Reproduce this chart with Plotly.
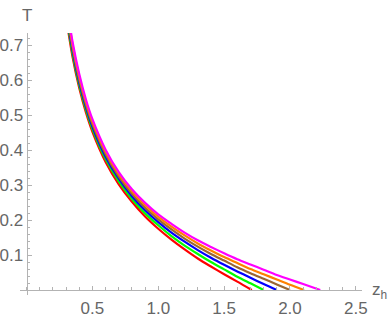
import plotly.graph_objects as go

# z_h sample points and T values (one list per curve)
z_red = [0.30, 0.35, 0.40, 0.45, 0.50, 0.60, 0.70, 0.80, 0.90, 1.00, 1.10, 1.20, 1.30, 1.40, 1.50, 1.60, 1.71]
T_red = [0.780, 0.664, 0.577, 0.508, 0.452, 0.366, 0.302, 0.252, 0.210, 0.175, 0.144, 0.116, 0.090, 0.067, 0.045, 0.024, 0.0]

z_green = [0.30, 0.35, 0.40, 0.45, 0.50, 0.60, 0.70, 0.80, 0.90, 1.00, 1.10, 1.20, 1.30, 1.40, 1.50, 1.60, 1.70, 1.80]
T_green = [0.790, 0.673, 0.585, 0.516, 0.460, 0.374, 0.310, 0.260, 0.219, 0.185, 0.154, 0.127, 0.103, 0.080, 0.059, 0.038, 0.019, 0.0]

z_blue = [0.30, 0.35, 0.40, 0.45, 0.50, 0.60, 0.70, 0.80, 0.90, 1.00, 1.10, 1.20, 1.30, 1.40, 1.50, 1.60, 1.70, 1.80, 1.90]
T_blue = [0.799, 0.682, 0.593, 0.524, 0.467, 0.381, 0.318, 0.268, 0.228, 0.194, 0.164, 0.138, 0.114, 0.092, 0.072, 0.053, 0.035, 0.017, 0.0]

z_brown = [0.30, 0.35, 0.40, 0.45, 0.50, 0.60, 0.70, 0.80, 0.90, 1.00, 1.10, 1.20, 1.30, 1.40, 1.50, 1.60, 1.70, 1.80, 1.90, 2.00]
T_brown = [0.809, 0.690, 0.601, 0.531, 0.474, 0.388, 0.324, 0.275, 0.235, 0.202, 0.173, 0.147, 0.124, 0.103, 0.084, 0.065, 0.048, 0.032, 0.016, 0.0]

z_orange = [0.30, 0.35, 0.40, 0.45, 0.50, 0.60, 0.70, 0.80, 0.90, 1.00, 1.10, 1.20, 1.30, 1.40, 1.50, 1.60, 1.70, 1.80, 1.90, 2.00, 2.107]
T_orange = [0.818, 0.699, 0.609, 0.538, 0.481, 0.395, 0.331, 0.282, 0.242, 0.209, 0.181, 0.156, 0.133, 0.113, 0.094, 0.077, 0.060, 0.045, 0.030, 0.015, 0.0]

z_magenta = [0.30, 0.35, 0.40, 0.45, 0.50, 0.60, 0.70, 0.80, 0.90, 1.00, 1.10, 1.20, 1.30, 1.40, 1.50, 1.60, 1.70, 1.80, 1.90, 2.00, 2.10, 2.23]
T_magenta = [0.828, 0.707, 0.617, 0.545, 0.488, 0.401, 0.337, 0.288, 0.249, 0.216, 0.189, 0.164, 0.142, 0.123, 0.105, 0.088, 0.073, 0.058, 0.043, 0.030, 0.017, 0.0]

x_tickvals = [0.5, 1.0, 1.5, 2.0, 2.5]
x_ticktext = ["0.5", "1.0", "1.5", "2.0", "2.5"]
y_tickvals = [0.1, 0.2, 0.3, 0.4, 0.5, 0.6, 0.7]
y_ticktext = ["0.1", "0.2", "0.3", "0.4", "0.5", "0.6", "0.7"]

series = [
    (z_red, T_red, "#FF0000"),
    (z_green, T_green, "#00FF00"),
    (z_blue, T_blue, "#0000FF"),
    (z_brown, T_brown, "#996633"),
    (z_orange, T_orange, "#FF8000"),
    (z_magenta, T_magenta, "#FF00FF"),
]

fig = go.Figure()
for zs, ts, col in series:
    fig.add_trace(go.Scatter(x=zs, y=ts, mode="lines",
                             line=dict(color=col, width=2.2, shape="spline", smoothing=0.8),
                             showlegend=False, hoverinfo="skip"))

xmin, xmax = -0.050, 2.547
ymin, ymax = -0.0143, 0.7343
axis_col = "#b3b3b3"
lab_col = "#666666"
font = dict(family="Liberation Sans, Arial, sans-serif", size=17, color=lab_col)

fig.update_layout(
    width=388, height=319,
    margin=dict(l=20, r=26, t=33, b=24, autoexpand=False),
    paper_bgcolor="white", plot_bgcolor="white",
    xaxis=dict(range=[xmin, xmax], showgrid=False, zeroline=False, automargin=False,
               showline=True, linecolor=axis_col, linewidth=1,
               anchor="free", position=(0 - ymin) / (ymax - ymin),
               tickmode="array", tickvals=x_tickvals, ticktext=x_ticktext,
               ticks="inside", ticklen=4, tickcolor=axis_col, tickwidth=1,
               tickfont=font, ticklabelstandoff=3,
               minor=dict(dtick=0.1, tick0=0, ticks="inside", ticklen=2.5,
                          tickcolor=axis_col, tickwidth=1, showgrid=False)),
    yaxis=dict(range=[ymin, ymax], showgrid=False, zeroline=False, automargin=False,
               showline=True, linecolor=axis_col, linewidth=1,
               anchor="free", position=(0 - xmin) / (xmax - xmin),
               tickmode="array", tickvals=y_tickvals, ticktext=y_ticktext,
               ticks="inside", ticklen=4, tickcolor=axis_col, tickwidth=1,
               tickfont=font,
               minor=dict(dtick=0.02, tick0=0, ticks="inside", ticklen=2.5,
                          tickcolor=axis_col, tickwidth=1, showgrid=False)),
    annotations=[
        dict(text="T", xref="paper", yref="paper",
             x=(0 - xmin) / (xmax - xmin), y=1, xanchor="center", yanchor="bottom",
             yshift=6, showarrow=False, font=font),
        dict(text="z<sub>h</sub>", xref="paper", yref="paper",
             x=1, y=(0 - ymin) / (ymax - ymin), xanchor="left", yanchor="middle",
             xshift=8, yshift=-1, showarrow=False, font=font),
    ],
)

fig.write_html("out.html", config={"displayModeBar": False, "staticPlot": True},
               post_script="document.body.style.margin='0';document.body.style.overflow='hidden';")
